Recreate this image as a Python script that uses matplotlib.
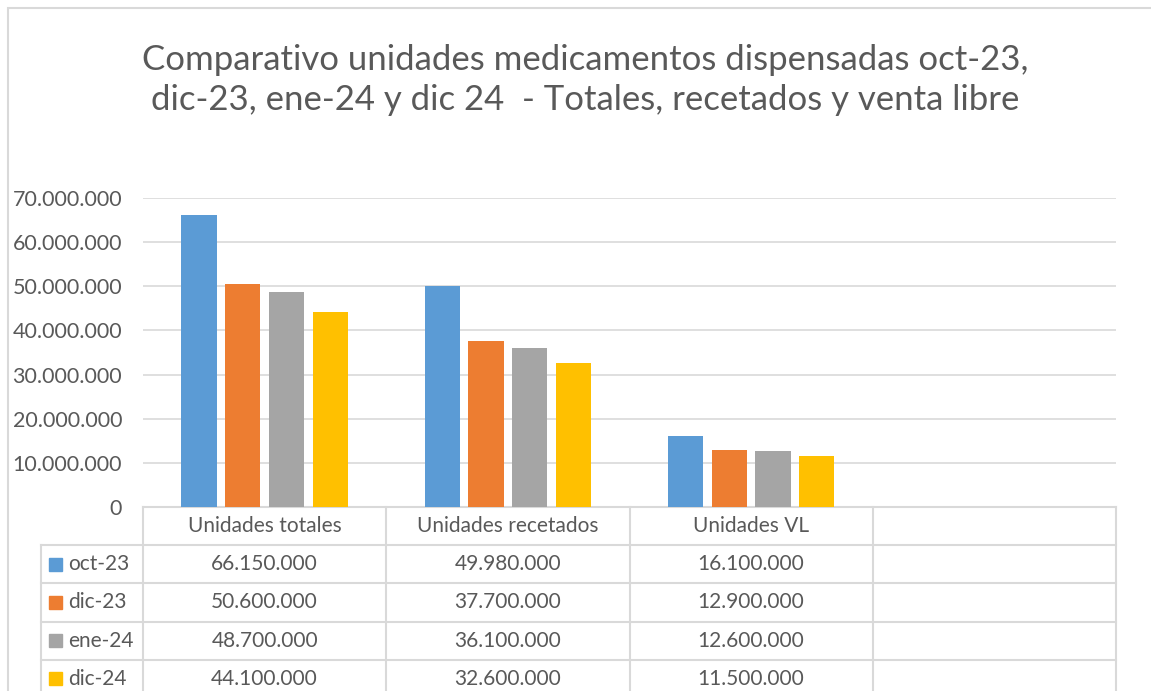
import matplotlib.pyplot as plt
import matplotlib.transforms as mtransforms
from matplotlib.patches import Rectangle
import numpy as np

plt.rcParams['font.family'] = ['Lato', 'DejaVu Sans']

# datos del grafico
categorias = ['Unidades totales', 'Unidades recetados', 'Unidades VL', '']
periodos = ['oct-23', 'dic-23', 'ene-24', 'dic-24']
oct23 = [66150000, 49980000, 16100000]
dic23 = [50600000, 37700000, 12900000]
ene24 = [48700000, 36100000, 12600000]
dic24 = [44100000, 32600000, 11500000]
series = [oct23, dic23, ene24, dic24]
colores = ['#5B9BD5', '#ED7D31', '#A5A5A5', '#FFC000']
yticks = np.arange(0, 70000001, 10000000)

gris_txt = '#595959'
gris_lin = '#D9D9D9'


def fmt(v):
    return '{:,}'.format(int(v)).replace(',', '.')


fig = plt.figure(figsize=(11.51, 6.91), dpi=100)
fig.patch.set_facecolor('white')
# marco exterior del grafico
fig.patches.append(Rectangle((8 / 1151, -0.1), 1.2, 1.1 - 8 / 691, transform=fig.transFigure,
                             fill=False, edgecolor=gris_lin, linewidth=1.5))

ax = fig.add_axes([143 / 1151, 1 - 507 / 691, (1116 - 143) / 1151, (507 - 198) / 691])

x = np.arange(3)
paso = 0.18
ancho = 0.145
for i, (vals, col) in enumerate(zip(series, colores)):
    ax.bar(x + (i - 1.5) * paso, vals, width=ancho, color=col, zorder=3)

ax.set_xlim(-0.5, 3.5)
ax.set_ylim(0, 70000000)
ax.set_yticks(yticks)
ax.set_yticklabels([fmt(v) for v in yticks], fontsize=15.5, color=gris_txt)
ax.set_xticks([])
ax.tick_params(axis='y', length=0, pad=15)
ax.grid(axis='y', color=gris_lin, linewidth=1.2, zorder=0)
for s in ax.spines.values():
    s.set_visible(False)

# tabla de datos
trans = mtransforms.blended_transform_factory(ax.transData, ax.transAxes)
fila = 38.2 / 309
x_leyenda = -0.5 - (143 - 41) / 243
bordes = [-0.5, 0.5, 1.5, 2.5, 3.5]
n_filas = len(periodos) + 1
y_fondo = -fila * n_filas

# lineas horizontales
ax.plot([-0.5, 3.5], [0, 0], transform=trans, color=gris_lin, lw=1.5, clip_on=False)
for r in range(1, n_filas + 1):
    ax.plot([x_leyenda, 3.5], [-fila * r, -fila * r], transform=trans,
            color=gris_lin, lw=1.5, clip_on=False)
# lineas verticales
for b in bordes:
    ax.plot([b, b], [0, y_fondo], transform=trans, color=gris_lin, lw=1.5, clip_on=False)
ax.plot([x_leyenda, x_leyenda], [-fila, y_fondo], transform=trans,
        color=gris_lin, lw=1.5, clip_on=False)

for j, cat in enumerate(categorias):
    ax.text(j, -fila * 0.5, cat, transform=trans, ha='center', va='center',
            fontsize=15, color=gris_txt)

for r, (per, vals, col) in enumerate(zip(periodos, series, colores)):
    yc = -fila * (r + 1.5)
    ax.add_patch(Rectangle((x_leyenda + 8 / 243, yc - 6.5 / 309), 13 / 243, 13 / 309,
                           transform=trans, color=col, clip_on=False))
    ax.text(x_leyenda + 27 / 243, yc, per, transform=trans, ha='left', va='center',
            fontsize=15, color=gris_txt)
    for j, v in enumerate(vals):
        ax.text(j, yc, fmt(v), transform=trans, ha='center', va='center',
                fontsize=15, color=gris_txt)

fig.text(585 / 1151, 1 - 80 / 691,
         'Comparativo unidades medicamentos dispensadas oct-23,\n'
         'dic-23, ene-24 y dic 24  - Totales, recetados y venta libre',
         ha='center', va='center', fontsize=25, color=gris_txt, linespacing=1.3)

fig.savefig('out.png', dpi=100, facecolor='white')
